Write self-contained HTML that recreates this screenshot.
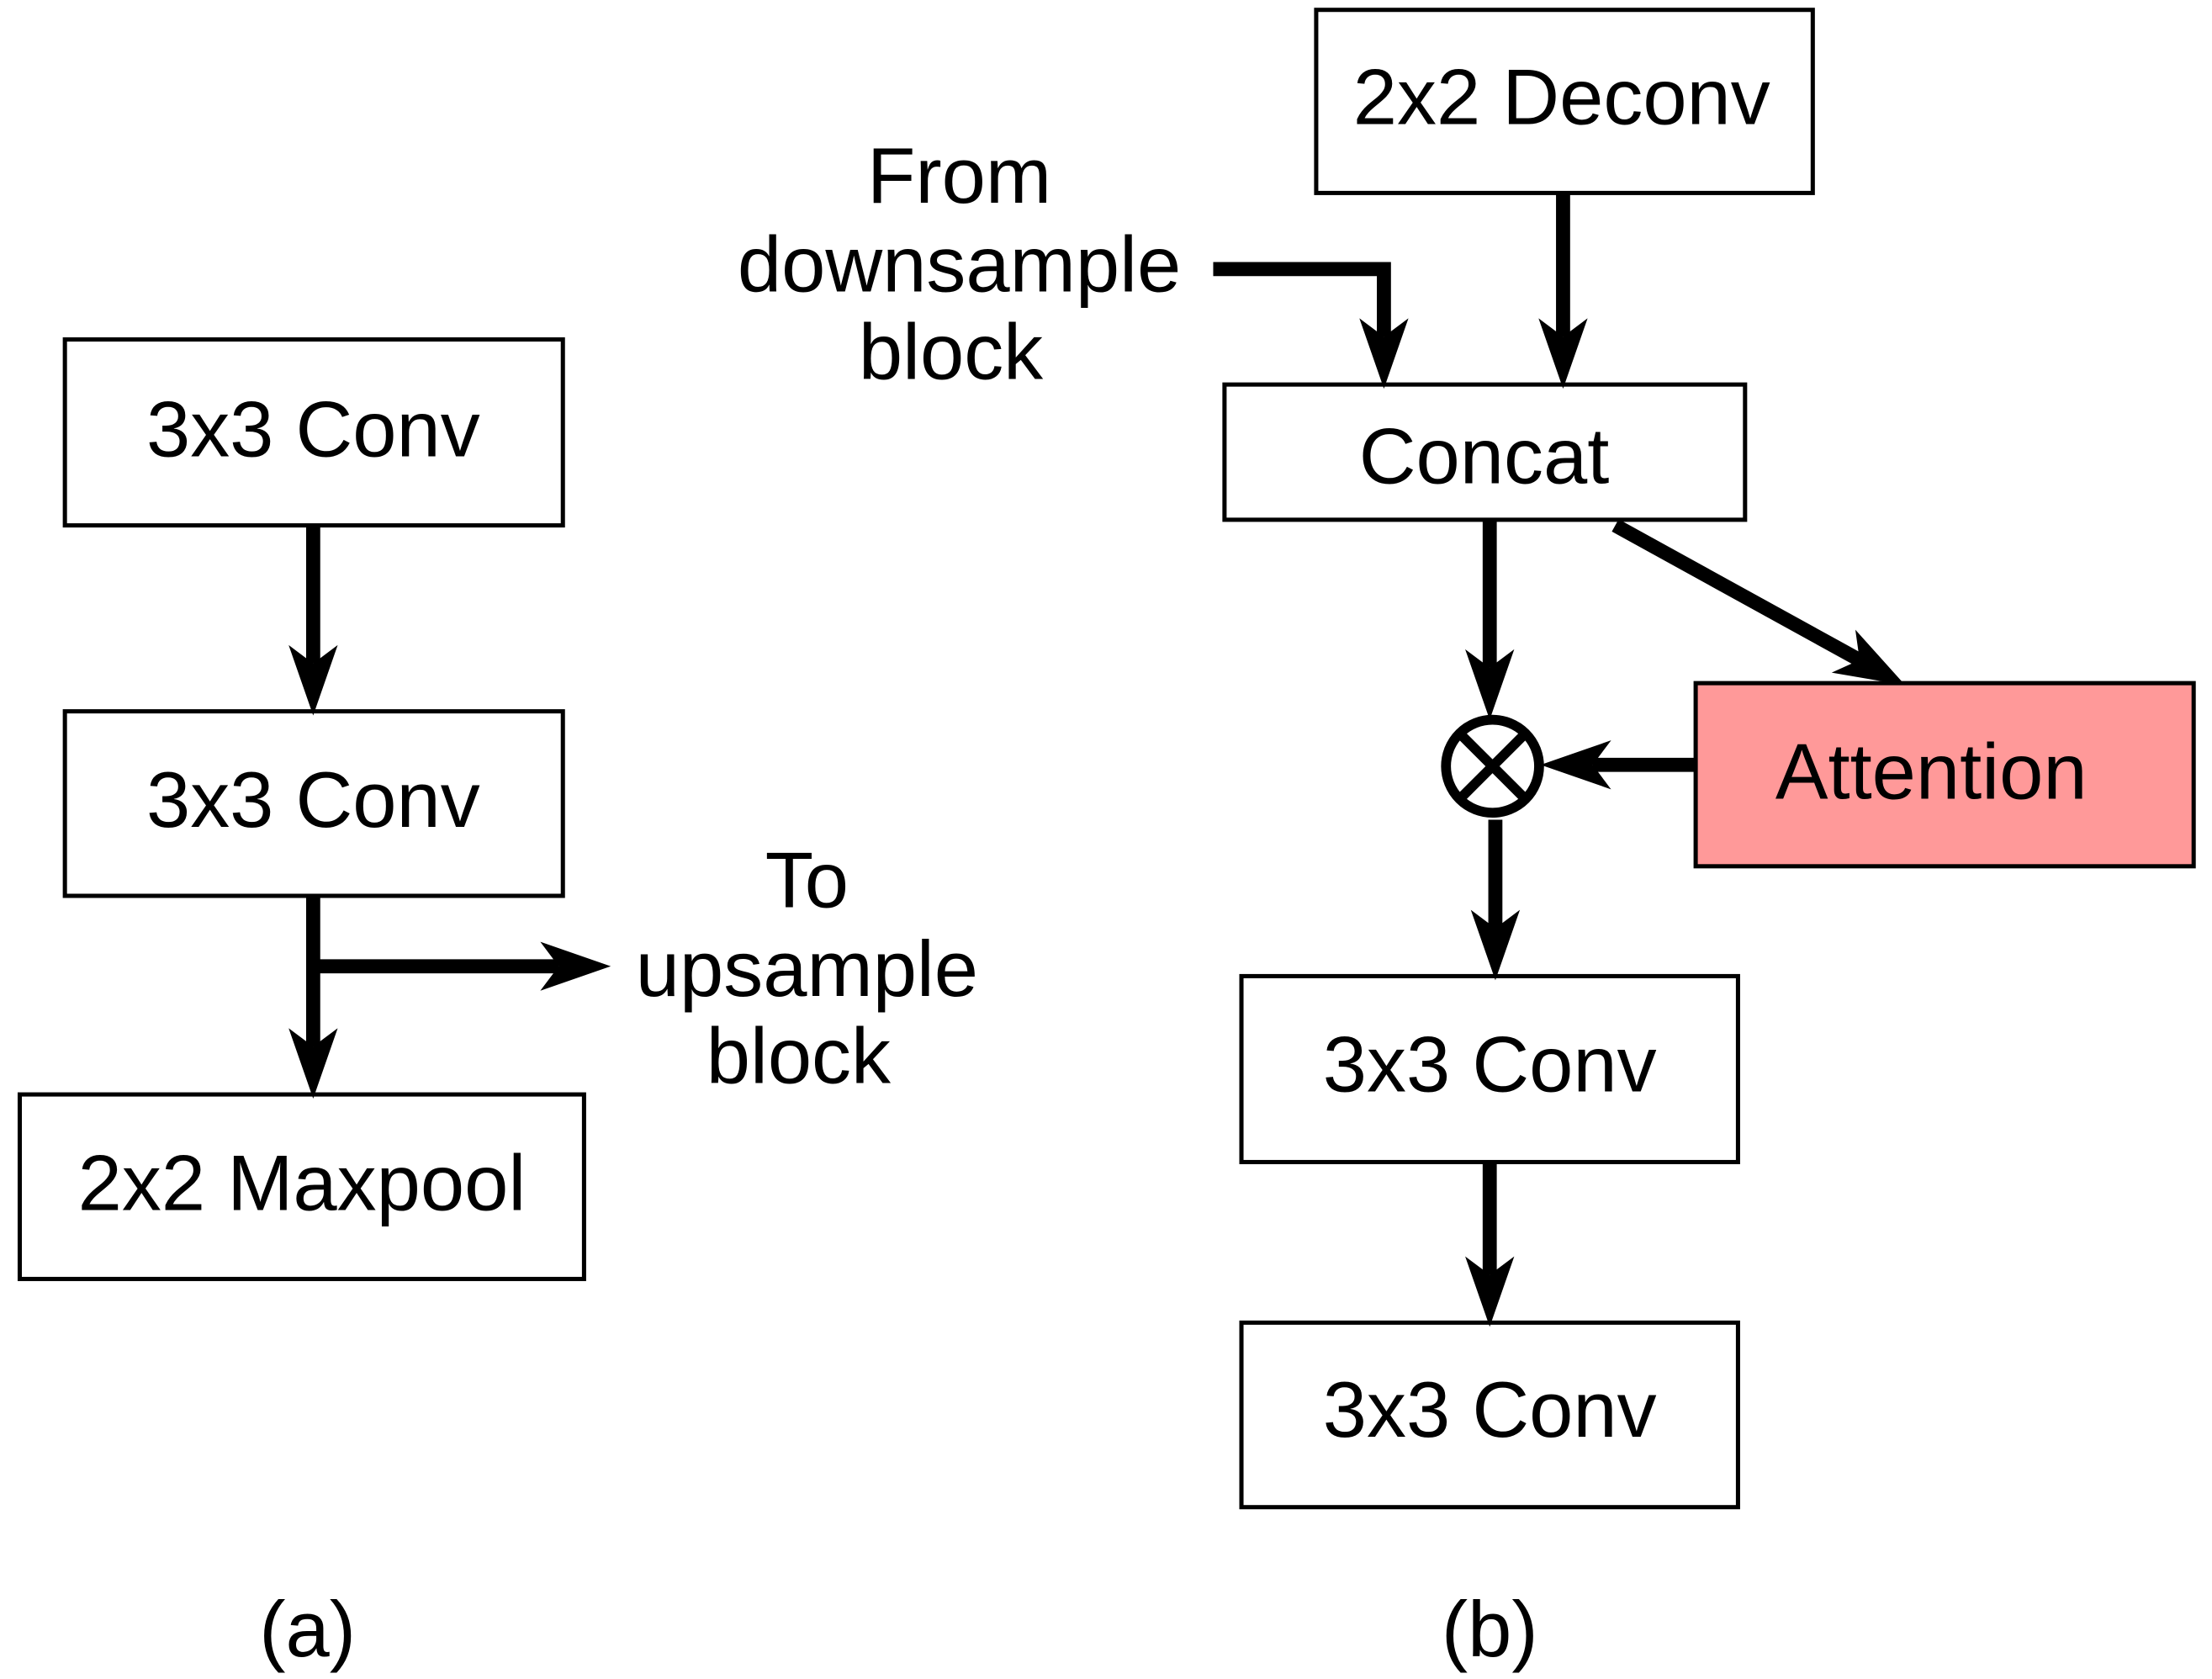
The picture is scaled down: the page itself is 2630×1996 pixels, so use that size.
<!DOCTYPE html>
<html><head><style>html,body{margin:0;padding:0;background:#fff}svg{display:block}</style></head>
<body>
<svg width="2630" height="1996" viewBox="0 0 1568 1192" preserveAspectRatio="none" xmlns="http://www.w3.org/2000/svg" font-family="Liberation Sans, sans-serif" font-size="56" text-anchor="middle">
<defs>
<marker id="ah" markerUnits="userSpaceOnUse" markerWidth="50" markerHeight="40" viewBox="0 0 46 36" refX="12" refY="18" orient="auto">
<path d="M0,2 L46,18 L0,34 L12,18 Z" fill="#000"/>
</marker>
</defs>
<g fill="#fff" stroke="#000" stroke-width="3">
<rect x="46" y="241" width="353" height="132"/>
<rect x="46" y="505" width="353" height="131"/>
<rect x="14" y="777" width="400" height="131"/>
<rect x="933" y="7" width="352" height="130"/>
<rect x="868" y="273" width="369" height="96"/>
<rect x="1202" y="485" width="353" height="130" fill="#ff9999"/>
<rect x="880" y="693" width="352" height="132"/>
<rect x="880" y="939" width="352" height="131"/>
<circle cx="1058" cy="544" r="33" stroke-width="7"/>
</g>
<path d="M1035,521 L1081,567 M1081,521 L1035,567" stroke="#000" stroke-width="7"/>
<g stroke="#000" stroke-width="10" fill="none" marker-end="url(#ah)">
<path d="M222,373 L222,471"/>
<path d="M222,636 L222,743"/>
<path d="M222,686 L396,686"/>
<path d="M1108,137 L1108,239"/>
<path d="M860,191 L981,191 L981,239"/>
<path d="M1056,369 L1056,474"/>
<path d="M1145,373 L1318.2,468.6"/>
<path d="M1202,543 L1129,543"/>
<path d="M1060,582 L1060,659"/>
<path d="M1056,825 L1056,905"/>
</g>
<g fill="#000">
<text x="222" y="324">3x3 Conv</text>
<text x="222" y="587">3x3 Conv</text>
<text x="214" y="859">2x2 Maxpool</text>
<text x="1107" y="88">2x2 Deconv</text>
<text x="1052" y="343">Concat</text>
<text x="1369" y="567">Attention</text>
<text x="1056" y="775">3x3 Conv</text>
<text x="1056" y="1020">3x3 Conv</text>
<text x="572" y="644">To</text>
<text x="572" y="707">upsample</text>
<text x="566" y="769">block</text>
<text x="680" y="144">From</text>
<text x="680" y="207">downsample</text>
<text x="674" y="269">block</text>
<text x="218" y="1176">(a)</text>
<text x="1056" y="1176">(b)</text>
</g>
</svg>
</body></html>
